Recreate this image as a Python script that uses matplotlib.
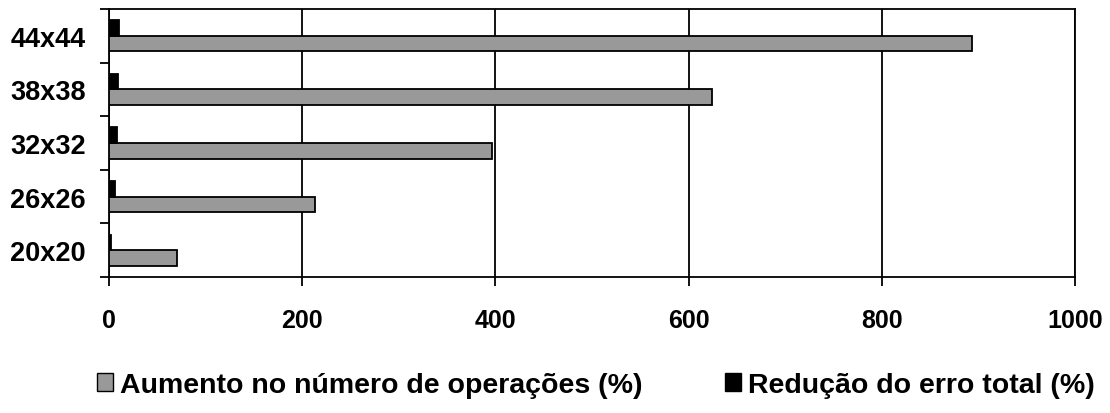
import matplotlib
matplotlib.use("Agg")
import matplotlib.pyplot as plt
import numpy as np
from matplotlib.patches import Patch

plt.rcParams['font.family'] = ['Liberation Sans', 'DejaVu Sans']
plt.rcParams['font.weight'] = 'bold'

categories = ["20x20", "26x26", "32x32", "38x38", "44x44"]
aumento_ops = [70, 213, 396, 624, 893]
reducao_erro = [2, 6.5, 8, 9, 10.5]
xticks = [0, 200, 400, 600, 800, 1000]

labels = ["Aumento no número de operações (%)", "Redução do erro total (%)"]
colors = ["#999999", "#000000"]

W, H = 1110, 414
fig = plt.figure(figsize=(W / 100, H / 100), dpi=100)
ax = fig.add_axes([109 / W, (H - 278) / H, (1075 - 109) / W, (278 - 10) / H])

y = np.arange(len(categories))
h = 0.29
ax.barh(y - h / 2, aumento_ops, height=h, color=colors[0],
        edgecolor="black", linewidth=1.3, zorder=3)
ax.barh(y + h / 2, reducao_erro, height=h, color=colors[1],
        edgecolor="black", linewidth=1.3, zorder=3)

ax.set_xlim(0, 1000)
ax.set_ylim(-0.5, len(categories) - 0.5)

ax.set_xticks(xticks)
ax.set_xticklabels([str(v) for v in xticks])
ax.set_yticks(y)
ax.set_yticklabels(categories)
ax.set_yticks(np.arange(-0.5, len(categories), 1.0), minor=True)

ax.tick_params(axis="y", which="major", length=0, pad=16.5, labelsize=19.5)
ax.tick_params(axis="y", which="minor", length=6.5, width=1.3, direction="out")
ax.tick_params(axis="x", which="major", length=6.5, width=1.3, direction="out",
               pad=15.5, labelsize=18)

for s in ax.spines.values():
    s.set_linewidth(1.3)
    s.set_color("black")

ax.grid(axis="x", color="black", linewidth=1.3, zorder=1)
ax.set_axisbelow(True)

handles = [Patch(facecolor=c, edgecolor="black", linewidth=1.0) for c in colors]
fig.legend(handles, labels, loc="center left", bbox_to_anchor=(97 / W, (H - 386) / H),
           ncol=2, frameon=False, fontsize=20.5, handlelength=0.56, handleheight=0.56,
           handletextpad=0.25, columnspacing=2.9, borderaxespad=0, borderpad=0)

fig.savefig("out.png", dpi=100)
